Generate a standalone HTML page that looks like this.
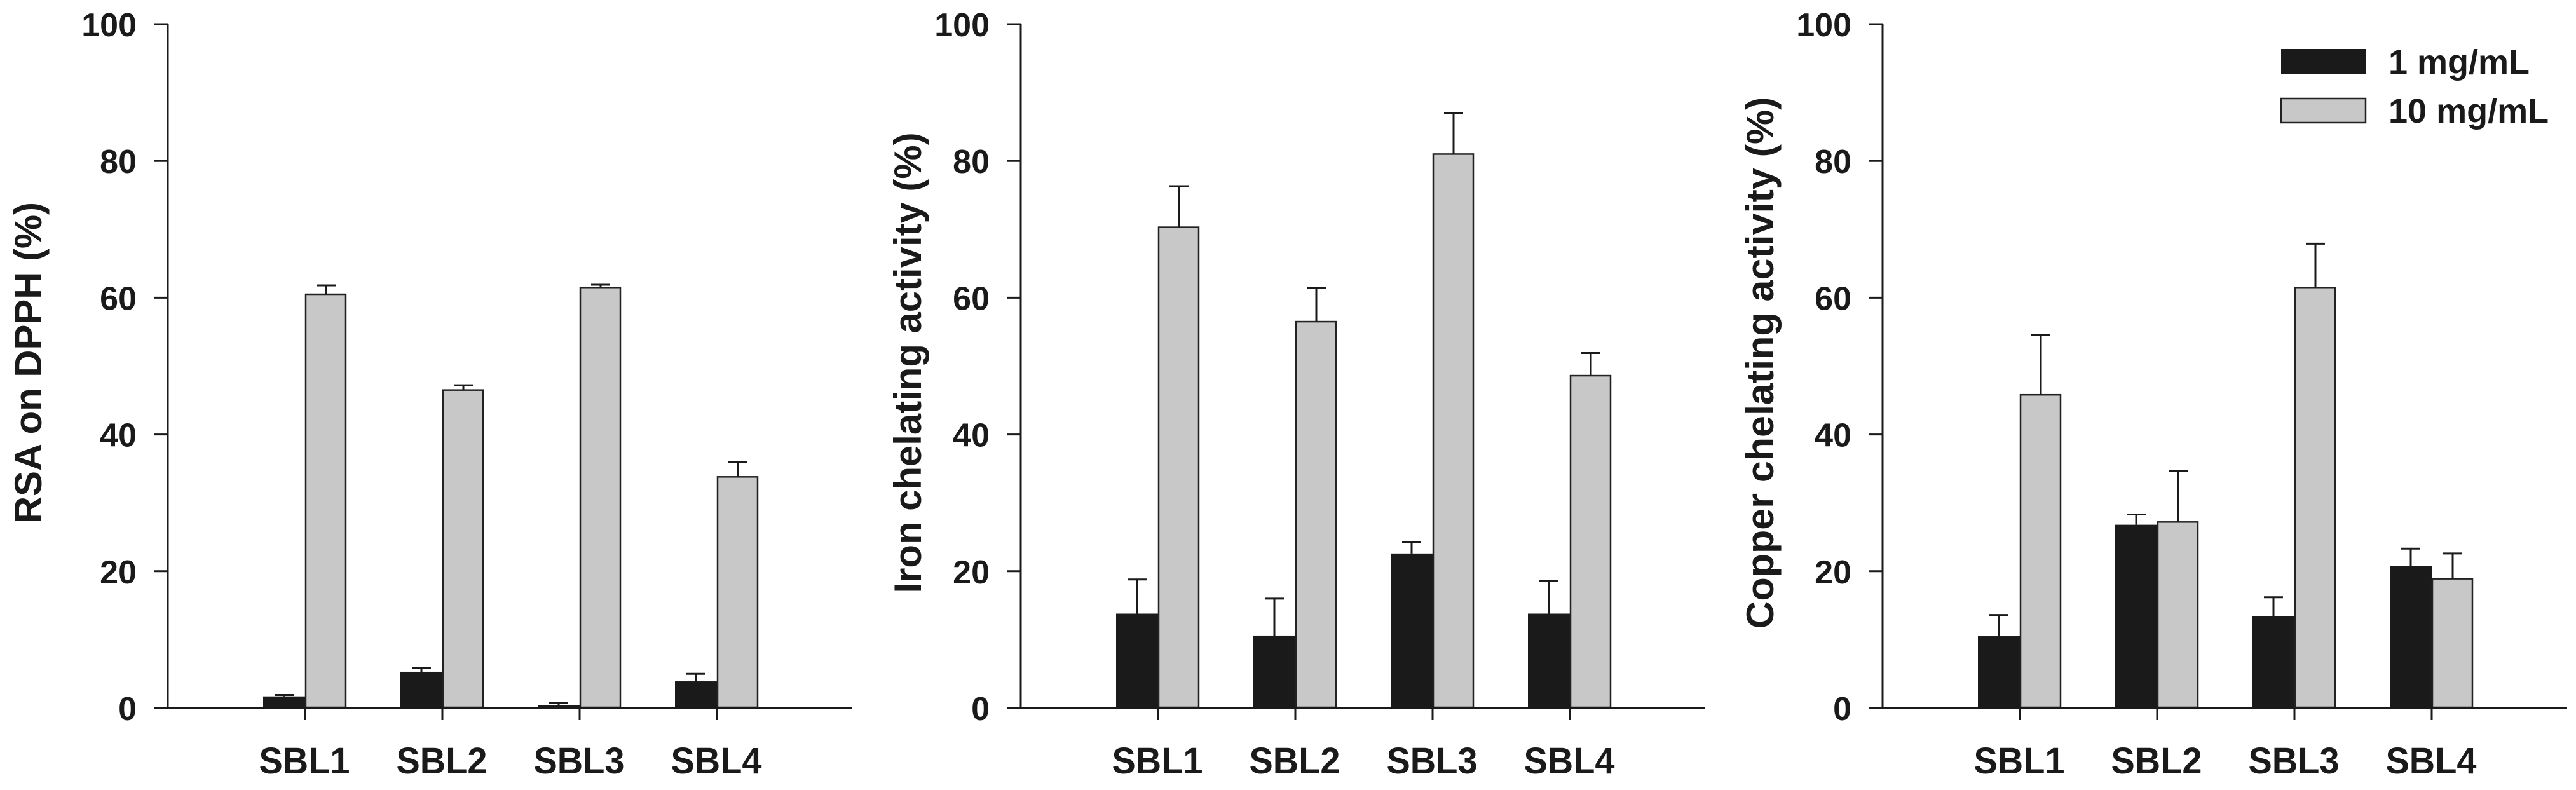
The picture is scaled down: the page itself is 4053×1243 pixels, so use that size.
<!DOCTYPE html>
<html><head><meta charset="utf-8"><style>
html,body{margin:0;padding:0;background:#fff;}
svg{display:block;}
text{font-family:"Liberation Sans",Arial,sans-serif;font-weight:bold;fill:#1a1a1a;}
</style></head>
<body>
<svg id="chart" width="4053" height="1243" viewBox="0 0 4053 1243" xmlns="http://www.w3.org/2000/svg">
<rect x="0" y="0" width="4053" height="1243" fill="#fff"/>
<g id="legend">
<rect x="3589" y="77" width="133" height="39" fill="#1a1a1a"/>
<text x="3758" y="116" font-size="54">1 mg/mL</text>
<rect x="3589" y="155" width="133" height="38" fill="#c8c8c8" stroke="#222" stroke-width="2.5"/>
<text x="3758" y="193" font-size="54">10 mg/mL</text>
</g>
</svg>
<script>
const categories = ["SBL1","SBL2","SBL3","SBL4"];
const yTicks = [0,20,40,60,80,100];
const titles = ["RSA on DPPH (%)","Iron chelating activity (%)","Copper chelating activity (%)"];
const low1 = [1.7,5.3,0.4,3.9];
const low1Err = [0.2,0.6,0.3,1.1];
const high1 = [60.5,46.5,61.5,33.8];
const high1Err = [1.3,0.7,0.4,2.2];
const low2 = [13.8,10.6,22.6,13.8];
const low2Err = [5.0,5.4,1.7,4.8];
const high2 = [70.3,56.5,81.0,48.6];
const high2Err = [6.0,4.9,6.0,3.3];
const low3 = [10.5,26.8,13.4,20.8];
const low3Err = [3.1,1.5,2.8,2.5];
const high3 = [45.8,27.2,61.5,18.9];
const high3Err = [8.8,7.5,6.4,3.7];

const panels = [
  {ax:264, titleX:65, titleLen:506, low:low1, lowErr:low1Err, high:high1, highErr:high1Err},
  {ax:1606, titleX:1449, titleLen:725, low:low2, lowErr:low2Err, high:high2, highErr:high2Err},
  {ax:2962, titleX:2790, titleLen:837, low:low3, lowErr:low3Err, high:high3, highErr:high3Err}
];
const svg = document.getElementById('chart');
const NS = 'http://www.w3.org/2000/svg';
const Y0 = 1114, Y100 = 38, AXLEN = 1077, STEP = 216, BW = 66;
function yScale(v){ return Y0 - (v/100)*(Y0-Y100); }
function mk(tag, attrs, parent){
  const e = document.createElementNS(NS, tag);
  for (const k in attrs) e.setAttribute(k, attrs[k]);
  (parent||svg).appendChild(e);
  return e;
}
panels.forEach((p, pi) => {
  const g = mk('g', {});
  
  
  const xc = i => p.ax + STEP*(i+1);
  // y axis
  const ya = mk('line', {x1:p.ax, y1:Y100, x2:p.ax, y2:Y0, stroke:'#1a1a1a', 'stroke-width':3}, g);
  
  
  yTicks.forEach(t => {
    const y = yScale(t);
    const tk = mk('line', {x1:p.ax-22, y1:y, x2:p.ax, y2:y, stroke:'#1a1a1a', 'stroke-width':3}, g);
    
    
    const lb = mk('text', {x:p.ax-49, y:y+19, 'font-size':52, 'text-anchor':'end'}, g);
    lb.textContent = String(t);
    
    
  });
  const title = mk('text', {x:0, y:0, 'font-size':60, 'text-anchor':'middle', textLength:p.titleLen, lengthAdjust:'spacingAndGlyphs', transform:'translate(' + p.titleX + ',571) rotate(-90)'}, g);
  title.textContent = titles[pi];
  
  
  categories.forEach((c, i) => {
    const x = xc(i);
    // low bar
    const yl = yScale(p.low[i]);
    const b1 = mk('rect', {x:x-BW, y:yl, width:BW, height:Y0-yl, fill:'#1a1a1a'}, g);
    
    
    const ye1 = yScale(p.low[i] + p.lowErr[i]);
    const e1 = mk('path', {d:'M'+(x-BW/2)+' '+yl+'V'+ye1+'M'+(x-BW/2-15)+' '+ye1+'H'+(x-BW/2+15), stroke:'#1a1a1a', 'stroke-width':3, fill:'none'}, g);
    
    
    // high bar
    const yh = yScale(p.high[i]);
    const b2 = mk('rect', {x:x+1, y:yh, width:BW-3, height:Y0-yh-1, fill:'#c8c8c8', stroke:'#222', 'stroke-width':2.5}, g);
    
    
    const ye2 = yScale(p.high[i] + p.highErr[i]);
    const e2 = mk('path', {d:'M'+(x+BW/2)+' '+yh+'V'+ye2+'M'+(x+BW/2-15)+' '+ye2+'H'+(x+BW/2+15), stroke:'#1a1a1a', 'stroke-width':3, fill:'none'}, g);
    
    
    const xt = mk('line', {x1:x, y1:Y0, x2:x, y2:Y0+19, stroke:'#1a1a1a', 'stroke-width':3}, g);
    
    
    const xl = mk('text', {x:x-1, y:1217, 'font-size':58, 'text-anchor':'middle', textLength:143, lengthAdjust:'spacingAndGlyphs'}, g);
    xl.textContent = c;
    
    
  });
  const xa = mk('line', {x1:p.ax-22, y1:Y0, x2:p.ax+AXLEN, y2:Y0, stroke:'#1a1a1a', 'stroke-width':3}, g);
  
  
});
</script>
</body></html>
